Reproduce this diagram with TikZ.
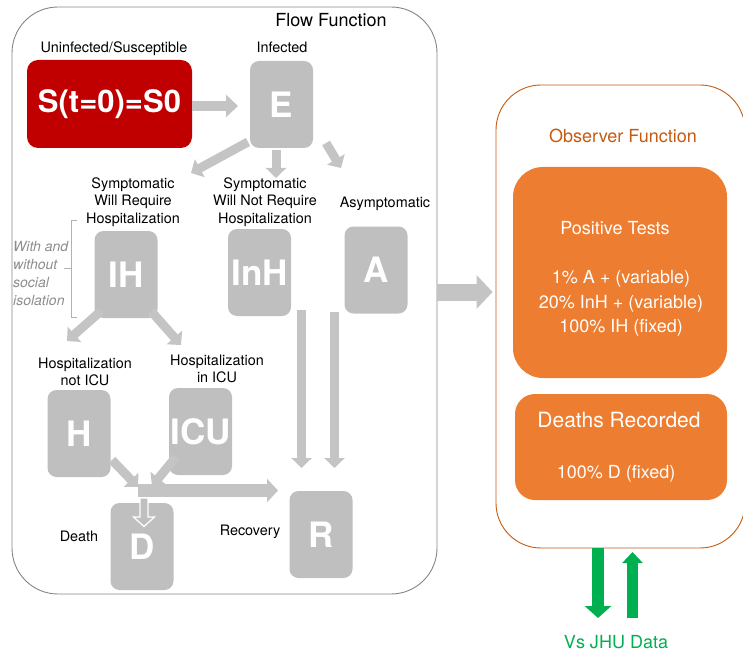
\documentclass[tikz,border=0pt]{standalone}
\usepackage{fontspec}
\setmainfont{TeX Gyre Heros}
\usetikzlibrary{arrows.meta,calc}
\definecolor{boxgray}{HTML}{BFBFBF}
\definecolor{arrgray}{HTML}{C4C4C4}
\definecolor{framegray}{HTML}{858585}
\definecolor{softgray}{HTML}{8C8C8C}
\definecolor{sred}{HTML}{C00000}
\definecolor{ofill}{HTML}{ED7D31}
\definecolor{oline}{HTML}{C55A11}
\definecolor{ggreen}{HTML}{00B050}
\begin{document}
\begin{tikzpicture}[x=1pt,y=-1pt,
  gbox/.style={fill=boxgray, rounded corners=9pt, minimum width=63pt, minimum height=87pt, inner sep=0pt, text=white, font=\fontsize{35}{35}\selectfont\bfseries},
  lbl/.style={font=\fontsize{14.4}{17.5}\selectfont, align=center, inner sep=0pt},
  whitetxt/.style={font=\fontsize{18}{24}\selectfont, text=white, inner sep=0pt},
  arrM/.style={draw=arrgray, line width=10pt, -{Triangle[width=22pt,length=12pt]}},
  arrS/.style={draw=arrgray, line width=9pt, -{Triangle[width=20pt,length=10pt]}},
  arrH/.style={draw=arrgray, line width=13pt, -{Triangle[width=23pt,length=11pt]}},
  arrBig/.style={draw=arrgray, line width=17pt, -{Triangle[width=33pt,length=16pt]}},
  arrGdown/.style={draw=ggreen, line width=12pt, -{Triangle[width=26pt,length=12pt]}},
  arrGup/.style={draw=ggreen, line width=11pt, -{Triangle[width=20pt,length=11pt]}}]
\useasboundingbox (0,0) rectangle (743,652);

% containers
\node[draw=framegray, line width=0.9pt, rounded corners=46pt, minimum width=425pt, minimum height=587pt, inner sep=0pt] (flow) at (224.5,300.5) {};
\node[draw=oline, line width=0.9pt, rounded corners=45pt, minimum width=249pt, minimum height=463pt, inner sep=0pt] (obs) at (620.5,316.5) {};
\node[font=\fontsize{18}{18}\selectfont, inner sep=0pt] (flowt) at (331,20) {Flow Function};
\node[font=\fontsize{18}{18}\selectfont, text=oline, inner sep=0pt] (obst) at (623,136) {Observer Function};

% compartments
\node[fill=sred, rounded corners=11pt, minimum width=165pt, minimum height=88pt, inner sep=0pt, text=white, font=\fontsize{31}{31}\selectfont\bfseries] (S0) at (109.5,104) {S(t=0)=S0};
\node[gbox] (E) at (281.5,104.5) {E};
\node[gbox] (IH) at (126,274.5) {IH};
\node[gbox] (InH) at (259.5,272.5) {InH};
\node[gbox] (A) at (376,270) {A};
\node[gbox] (H) at (79,433.5) {H};
\node[gbox] (ICU) at (200.5,431.5) {ICU};
\node[gbox] (D) at (142,546.5) {D};
\node[gbox] (R) at (321,534.5) {R};

% labels
\node[lbl] (lS) at (114,49) {Uninfected/Susceptible};
\node[lbl] (lE) at (282,47) {Infected};
\node[lbl] (lIH) at (133,202) {Symptomatic\\Will Require\\Hospitalization};
\node[lbl] (lInH) at (265,202) {Symptomatic\\Will Not Require\\Hospitalization};
\node[lbl] (lA) at (385,204) {Asymptomatic};
\node[lbl] (lH) at (85,372) {Hospitalization\\not ICU};
\node[lbl] (lICU) at (217,369) {Hospitalization\\in ICU};
\node[lbl] (lD) at (79,536) {Death};
\node[lbl] (lR) at (250,532) {Recovery};
\node[font=\fontsize{14}{17.7}\selectfont\itshape, text=softgray, align=left, inner sep=0pt, anchor=west] (iso) at (13,273.5) {With and\\without\\social\\isolation};
\draw[draw=boxgray!80!gray, line width=0.8pt] (77,220) -- (71,220) -- (71,317) -- (77,317);
\draw[draw=boxgray!80!gray, line width=0.8pt] (71,268) -- (64,268);

% arrow end points
\coordinate (s0a) at (192,106);  \coordinate (s0b) at (238,106);
\coordinate (e1a) at (248,142);  \coordinate (e1b) at (191,173);
\coordinate (e2a) at (276,150);  \coordinate (e2b) at (276,178);
\coordinate (e3a) at (326,143);  \coordinate (e3b) at (341,168);
\coordinate (ih1a) at (101,311); \coordinate (ih1b) at (67,341);
\coordinate (ih2a) at (151,311); \coordinate (ih2b) at (181,345);
\coordinate (h1a) at (112,460);  \coordinate (h1b) at (138,487);
\coordinate (c1a) at (176,457);  \coordinate (c1b) at (152,486);
\coordinate (ja) at (138,490.5); \coordinate (jb) at (278,490.5);
\coordinate (r1a) at (301.5,310); \coordinate (r1b) at (301.5,468);
\coordinate (r2a) at (334.5,312); \coordinate (r2b) at (334.5,468);

\draw[arrM] (s0a) -- (s0b);
\draw[arrS] (e1a) -- (e1b);
\draw[arrS] (e2a) -- (e2b);
\draw[arrS] (e3a) -- (e3b);
\draw[arrS] (ih1a) -- (ih1b);
\draw[arrS] (ih2a) -- (ih2b);
\draw[arrS] (h1a) -- (h1b);
\draw[arrS] (c1a) -- (c1b);
\draw[arrH] (ja) -- (jb);
\draw[arrS] (r1a) -- (r1b);
\draw[arrS] (r2a) -- (r2b);

% small arrow into D
\draw[fill=boxgray, draw=white, line width=1.2pt] (140,498) -- (148,498) -- (148,517) -- (154.5,517) -- (144,526.5) -- (133.5,517) -- (140,517) -- cycle;

% big arrow to observer
\draw[arrBig, shorten >=3pt] ($(flow.east)+(0,-8.5)$) -- ($(obs.west)+(0,-24.5)$);

% observer boxes
\node[fill=ofill, rounded corners=30pt, minimum width=214pt, minimum height=211pt, inner sep=0pt] (pos) at (620,272.5) {};
\node[fill=ofill, rounded corners=20pt, minimum width=212pt, minimum height=106pt, inner sep=0pt] (dr) at (621,447) {};
\node[whitetxt] (pt0) at (615,228) {Positive Tests};
\node[whitetxt] (pt1) at (621,279) {1\% A + (variable)};
\node[whitetxt] (pt2) at (621,304) {20\% InH + (variable)};
\node[whitetxt] (pt3) at (621,328) {100\% IH (fixed)};
\node[whitetxt, font=\fontsize{21}{21}\selectfont] (dr0) at (619,420) {Deaths Recorded};
\node[whitetxt] (dr1) at (616,474) {100\% D (fixed)};

% green arrows
\coordinate (g1a) at (598,548); \coordinate (g1b) at (598,618);
\coordinate (g2a) at (632.5,618); \coordinate (g2b) at (632.5,552);
\draw[arrGdown] (g1a) -- (g1b);
\draw[arrGup] (g2a) -- (g2b);
\node[font=\fontsize{18}{18}\selectfont, text=ggreen, inner sep=0pt] (jhu) at (616,642) {Vs JHU Data};
\end{tikzpicture}
\end{document}
